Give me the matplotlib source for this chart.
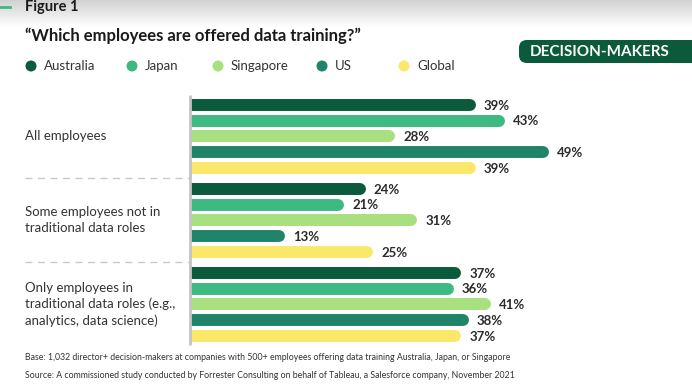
import numpy as np
import matplotlib.pyplot as plt
from matplotlib.patches import FancyBboxPatch, Circle

plt.rcParams['font.family'] = ['Lato', 'DejaVu Sans']

# data
categories = ["All employees",
              "Some employees not in\ntraditional data roles",
              "Only employees in\ntraditional data roles (e.g.,\nanalytics, data science)"]
series = ["Australia", "Japan", "Singapore", "US", "Global"]
australia = [39, 24, 37]
japan = [43, 21, 36]
singapore = [28, 31, 41]
us = [49, 13, 38]
global_ = [39, 25, 37]
values = [australia, japan, singapore, us, global_]
colors = ["#0b5a3b", "#3dba82", "#a9e07f", "#1f8468", "#fbe86b"]

title = "\u201cWhich employees are offered data training?\u201d"
badge = "DECISION-MAKERS"
notes = ["Base: 1,032 director+ decision-makers at companies with 500+ employees offering data training Australia, Japan, or Singapore",
         "Source: A commissioned study conducted by Forrester Consulting on behalf of Tableau, a Salesforce company, November 2021"]

W, H = 692, 389
fig = plt.figure(figsize=(W / 100, H / 100), dpi=100)

# decoration layer in pixel coords
deco = fig.add_axes([0, 0, 1, 1], zorder=0)
deco.set_xlim(0, W)
deco.set_ylim(H, 0)
deco.axis('off')
grad = np.linspace(0.82, 1.0, 64).reshape(-1, 1)
deco.imshow(np.dstack([grad, grad, grad]), extent=(0, W, 27, 0), aspect='auto')
deco.plot([0, 10], [7, 7], color="#3dba82", lw=2)
deco.text(25, 7, "Figure 1", fontsize=10.5, fontweight='bold', color="#1a1a1a", va='center')
deco.text(25, 36, title, fontsize=12, fontweight='bold', color="#1a1a1a", va='center')

deco.add_patch(FancyBboxPatch((519, 40), 200, 23, boxstyle="round,pad=0,rounding_size=8",
                              fc="#0b5a3b", ec="none"))
deco.text(600, 52, badge, fontsize=11, fontweight='bold', color="white", ha='center', va='center')

leg_x = [31, 132, 218, 322, 404]
for x, name, c in zip(leg_x, series, colors):
    deco.add_patch(Circle((x, 66), 5.5, fc=c, ec="none"))
    deco.text(x + 13, 66, name, fontsize=9.5, color="#333333", va='center')

for i, line in enumerate(notes):
    deco.text(25, 358 + i * 17, line, fontsize=6.3, color="#333333", va='center')

# bars
ax = fig.add_axes([190 / W, 1 - 347 / H, 500 / W, 252 / H], zorder=1)
ax.patch.set_alpha(0)
ax.set_xlim(0, 500 / 7.33)
pitch = 1.0
gstride = 5.33
unit = 15.76
ax.set_ylim(-0.62 + 252 / unit, -0.62)
ax.axis('off')

radius = 6 / 7.33
for g, cat in enumerate(categories):
    for i, vals in enumerate(values):
        y = g * gstride + i * pitch
        v = vals[g]
        ax.plot([-2, v - radius], [y, y], color=colors[i], lw=8.6,
                solid_capstyle='round', clip_on=True)
        ax.text(v + 1.1, y + 0.05, f"{v}%", fontsize=9.5, fontweight='bold',
                color="#2b2b2b", va='center')
    yc = g * gstride + 2
    ax.text(-165 / 7.33, yc, cat, fontsize=9.5, color="#333333", va='center',
            ha='left', linespacing=1.4, clip_on=False)
    if g > 0:
        ys = g * gstride - 0.66
        ax.plot([-165 / 7.33, 0], [ys, ys], color="#c8c8c8", lw=1,
                dashes=(5, 4), clip_on=False)

ax.plot([0, 0], [-0.6, 2 * gstride + 4.6], color="#c4c4c4", lw=2, clip_on=False,
        solid_capstyle='butt')

fig.savefig("out.png", dpi=100)
